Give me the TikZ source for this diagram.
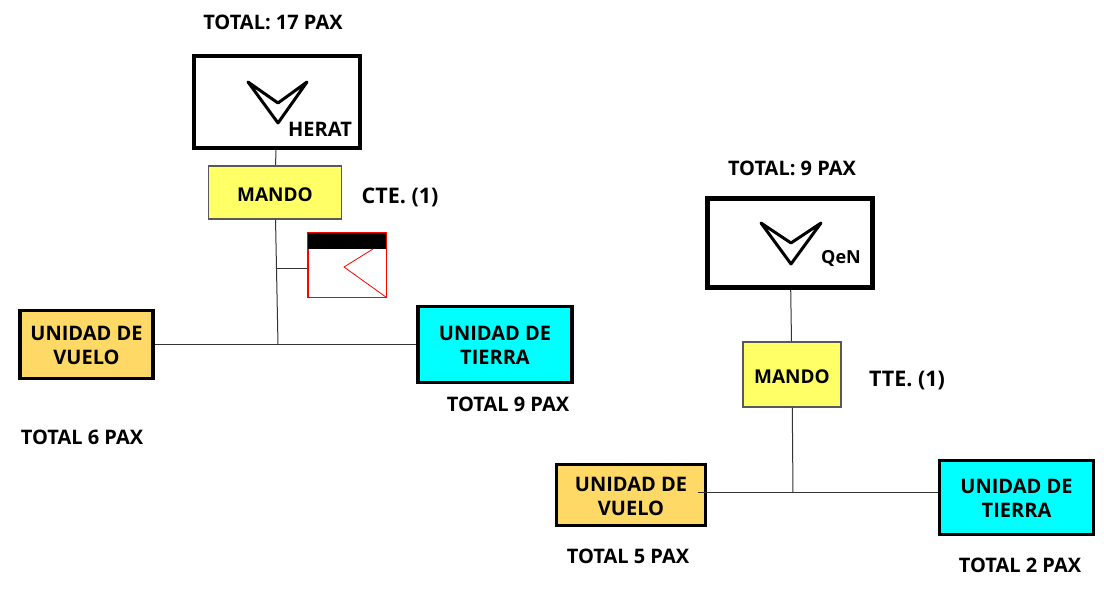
\documentclass[tikz,border=0pt]{standalone}
\usepackage{fontspec}
\setmainfont{Open Sans}
\definecolor{amarillo}{HTML}{FFFF66}
\definecolor{naranja}{HTML}{FFD966}
\definecolor{cian}{HTML}{00FFFF}
\tikzset{
  base/.style={x=1pt,y=-1pt,font=\fontsize{20}{24}\selectfont\bfseries,inner sep=0pt,align=center},
  escudo/.style={draw=black,line width=4.5pt,fill=white},
  mando/.style={draw=black!65,line width=1.3pt,fill=amarillo,font=\fontsize{19}{24}\selectfont\bfseries,text height=18pt},
  unidad/.style={draw=black,line width=3.5pt,text height=41pt,text depth=0pt},
  grado/.style={font=\fontsize{21.5}{24}\selectfont\bfseries},
  enlace/.style={draw=black!80,line width=1pt},
  chevron/.style={draw=black,line width=3pt,line join=round}
}
\begin{document}
\begin{tikzpicture}[base]
      \useasboundingbox (0,0) rectangle (1104,601);

      \node[escudo,minimum width=166pt,minimum height=92pt] (HE) at (277,102) {};
      \node[mando,minimum width=133pt,minimum height=53pt] (M1) at (275,192.5) {MANDO};
      \node[draw=red,line width=.8pt,fill=white,minimum width=78pt,minimum height=64pt] (Est) at (347,265) {};
      \node[unidad,fill=naranja,minimum width=133pt,minimum height=68pt] (V1) at (86.5,344.5) {UNIDAD DE\\VUELO};
      \node[unidad,fill=cian,minimum width=154pt,minimum height=76pt] (T1) at (495,344.5) {UNIDAD DE\\TIERRA};

      \node[escudo,minimum width=165pt,minimum height=89pt] (QE) at (790,243) {};
      \node[mando,minimum width=98pt,minimum height=65pt] (M2) at (792,374.5) {MANDO};
      \node[unidad,fill=naranja,minimum width=149pt,minimum height=61pt] (V2) at (631,495) {UNIDAD DE\\VUELO};
      \node[unidad,fill=cian,minimum width=154pt,minimum height=74pt] (T2) at (1016.5,497.5) {UNIDAD DE\\TIERRA};

      \node (H1) at (273,22) {TOTAL: 17 PAX};
      \node[grado] (C1) at (400,197) {CTE. (1)};
      \node (P6) at (82,437) {TOTAL 6 PAX};
      \node (P9) at (508,404) {TOTAL 9 PAX};
      \node (H2) at (792,168) {TOTAL: 9 PAX};
      \node[grado] (C2) at (907,381) {TTE. (1)};
      \node (P5) at (628,556) {TOTAL 5 PAX};
      \node (P2) at (1020,565) {TOTAL 2 PAX};
      \node (HL) at (320,129) {HERAT};
      \node[font=\fontsize{18}{20}\selectfont\bfseries] (QL) at (841,259) {QeN};

      \coordinate (J1) at (278,345);
      \coordinate (J2) at (277,269);
      \coordinate (J3) at (793,493);
      \coordinate (J4) at (698,493);

      \draw[enlace] (HE) -- (M1);
      \draw[enlace] (M1) -- (J1);
      \draw[enlace] (J2) -- (Est.west |- J2);
      \draw[enlace] (V1) -- (T1);
      \draw[enlace] (QE) -- (M2);
      \draw[enlace] (M2) -- (J3);
      \draw[enlace] (J4) -- (T2.west |- J4);

      \fill[black] (Est.north west) rectangle (386,249);
      \draw[red,line width=.8pt] (Est.north west) rectangle (Est.south east);
      \draw[red,line width=.8pt] (373,249) -- (344,267) -- (Est.south east);

      \draw[chevron] (248,82) -- (278,103) -- (307,82) -- (278,123) -- cycle;
      \draw[chevron] (761,223) -- (791,243) -- (821,223) -- (791,264) -- cycle;
\end{tikzpicture}
\end{document}
